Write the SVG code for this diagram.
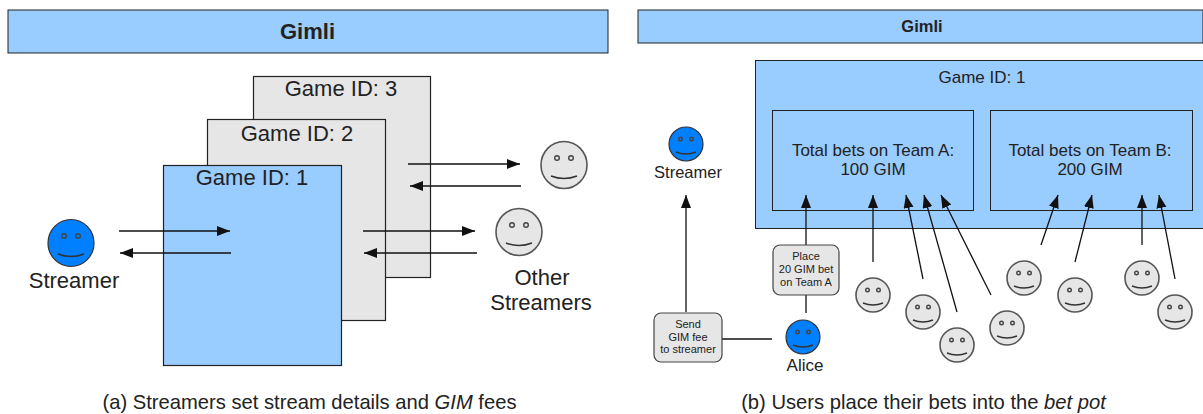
<svg xmlns="http://www.w3.org/2000/svg" width="1203" height="414" viewBox="0 0 1203 414">
<style>
text{font-family:"Liberation Sans",Arial,sans-serif;fill:#222;text-anchor:middle}
.bar{fill:#99ccff;stroke:#222;stroke-width:1}
.gray{fill:#e6e6e6;stroke:#222;stroke-width:1.2}
.blue{fill:#99ccff;stroke:#222;stroke-width:1.2}
.call{fill:#e6e6e6;stroke:#444;stroke-width:1.2}
.l{font-size:22px}.m{font-size:17px}.s{font-size:11px}
.c{stroke:#111;stroke-width:1.3;fill:none}
.a{marker-end:url(#h)}
.fg{fill:#e6e6e6;stroke:#555;stroke-width:1.6}
.fb{fill:#007fff;stroke:#333;stroke-width:1.2}
.d{fill:none;stroke:#444;stroke-width:1.4}
.sm{fill:none;stroke:#333;stroke-width:1.4}
</style>
<defs>
<marker id="h" markerUnits="userSpaceOnUse" markerWidth="14" markerHeight="11" refX="13" refY="5" orient="auto"><path d="M0 0L13 5L0 10Z" fill="#111"/></marker>
<g id="fs"><circle r="17" class="fg"/><circle cx="-5.500" cy="-5" r="1.800" class="d"/><circle cx="5.500" cy="-5" r="1.800" class="d"/><path d="M-10 8Q0 12 10 8" class="sm"/></g>
<g id="fsb"><circle r="17" class="fb"/><circle cx="-5.500" cy="-5" r="1.800" class="d"/><circle cx="5.500" cy="-5" r="1.800" class="d"/><path d="M-10 8Q0 12 10 8" class="sm"/></g>
<g id="fl"><ellipse rx="23" ry="23.500" class="fg"/><circle cx="-7" cy="-7" r="2.300" class="d"/><circle cx="7" cy="-7" r="2.300" class="d"/><path d="M-13 11Q0 16 13 11" class="sm"/></g>
<g id="flb"><ellipse rx="23" ry="23.500" class="fb"/><circle cx="-7" cy="-7" r="2.300" class="d"/><circle cx="7" cy="-7" r="2.300" class="d"/><path d="M-13 11Q0 16 13 11" class="sm"/></g>
</defs>
<rect width="1203" height="414" fill="#fff"/>
<g id="left-header"><rect class="bar" x="8" y="10" width="600" height="43"/><text x="307.500" y="39" font-size="22" font-weight="bold">Gimli</text></g>
<g id="game3"><rect class="gray" x="253.500" y="76.500" width="177" height="201"/><text class="l" x="341" y="96">Game ID: 3</text></g>
<g id="game2"><rect class="gray" x="207.500" y="119.500" width="178" height="201"/><text class="l" x="297" y="141">Game ID: 2</text></g>
<g id="game1"><rect class="blue" x="163.500" y="165.500" width="178" height="200"/><text class="l" x="252" y="185">Game ID: 1</text></g>
<g id="streamer-left"><use href="#flb" x="71" y="243"/><text class="l" x="74" y="288">Streamer</text></g>
<g id="other-1"><use href="#fl" x="564" y="165"/></g>
<g id="other-2"><use href="#fl" x="519" y="232"/></g>
<g id="other-label"><text class="l" x="542" y="285">Other</text><text class="l" x="541" y="310">Streamers</text></g>
<g id="right-header"><rect class="bar" x="638" y="10" width="565" height="33"/><text x="922" y="32" font-size="16.500" font-weight="bold">Gimli</text></g>
<g id="game-box"><rect class="bar" x="755.500" y="60.500" width="448" height="168"/><text class="m" x="982" y="83">Game ID: 1</text></g>
<g id="team-a"><rect class="bar" x="772.500" y="110.500" width="201" height="100"/><text class="m" x="873" y="156">Total bets on Team A:</text><text class="m" x="873" y="175">100 GIM</text></g>
<g id="team-b"><rect class="bar" x="990.500" y="110.500" width="202" height="100"/><text class="m" x="1090" y="156">Total bets on Team B:</text><text class="m" x="1090" y="175">200 GIM</text></g>
<g id="connectors">
<path class="c a" d="M119 231H230"/><path class="c a" d="M231 253H120"/>
<path class="c a" d="M363 231H475"/><path class="c a" d="M477 253H364"/>
<path class="c a" d="M408 164H520"/><path class="c a" d="M521 186H410"/>
<path class="c a" d="M686 312V195"/>
<path class="c a" d="M806 245V195"/><path class="c" d="M806 295V313"/><path class="c" d="M722 339H772"/>
<path class="c a" d="M873 262V195"/>
<path class="c a" d="M923 279L906 195"/>
<path class="c a" d="M957 312L924 195"/>
<path class="c a" d="M991 295L941 195"/>
<path class="c a" d="M1041 245L1058 195"/>
<path class="c a" d="M1075 262L1092 195"/>
<path class="c a" d="M1142 245V195"/>
<path class="c a" d="M1175 279L1159 195"/>
</g>
<g id="streamer-right"><use href="#fsb" x="686" y="144"/><text x="688" y="178" font-size="16.500">Streamer</text></g>
<g id="alice"><use href="#fsb" x="803" y="337"/><text x="805" y="371" font-size="17">Alice</text></g>
<g id="place-note"><rect class="call" x="773" y="245" width="66" height="50" rx="7"/><text class="s" x="806" y="260">Place</text><text class="s" x="806" y="273">20 GIM bet</text><text class="s" x="806" y="286">on Team A</text></g>
<g id="fee-note"><rect class="call" x="654" y="313" width="68" height="49" rx="7"/><text class="s" x="688" y="328">Send</text><text class="s" x="688" y="341">GIM fee</text><text class="s" x="688" y="353">to streamer</text></g>
<g id="u1"><use href="#fs" x="873" y="295"/></g>
<g id="u2"><use href="#fs" x="923" y="312"/></g>
<g id="u3"><use href="#fs" x="957" y="345"/></g>
<g id="u4"><use href="#fs" x="1007" y="328"/></g>
<g id="u5"><use href="#fs" x="1024" y="278"/></g>
<g id="u6"><use href="#fs" x="1075" y="295"/></g>
<g id="u7"><use href="#fs" x="1142" y="278"/></g>
<g id="u8"><use href="#fs" x="1175" y="312"/></g>
<g id="captions"><text x="309.500" y="408.500" font-size="20.200">(a) Streamers set stream details and <tspan font-style="italic">GIM</tspan> fees</text><text x="923.500" y="408.500" font-size="20.200">(b) Users place their bets into the <tspan font-style="italic">bet pot</tspan></text></g>
</svg>
